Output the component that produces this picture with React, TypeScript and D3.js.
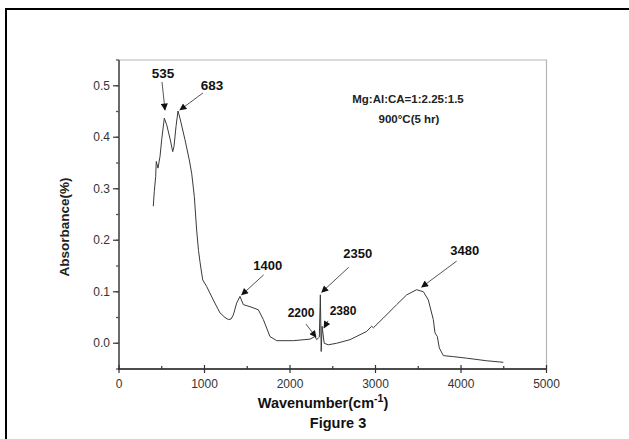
import React, { useEffect, useRef } from "react";
import * as d3 from "d3";

// FTIR spectrum: wavenumber (cm-1) and absorbance
const wavenumber = [
  401, 413, 429, 436, 456, 480, 499, 530, 558, 600, 628, 643, 667, 690, 713,
  772, 822, 850, 881, 908, 930, 947, 979, 1026, 1103, 1181, 1240, 1279, 1310,
  1337, 1376, 1415, 1454, 1532, 1630, 1688, 1766, 1844, 2039, 2234, 2292, 2312,
  2343, 2355, 2365, 2375, 2400, 2448, 2546, 2702, 2897, 2955, 2975, 3092, 3248,
  3365, 3482, 3560, 3618, 3676, 3696, 3723, 3746, 3793, 3910, 4066, 4300, 4495,
];
const absorbance = [
  0.266, 0.295, 0.324, 0.353, 0.34, 0.363, 0.395, 0.437, 0.424, 0.395, 0.372,
  0.382, 0.421, 0.451, 0.437, 0.395, 0.356, 0.33, 0.285, 0.22, 0.18, 0.158,
  0.123, 0.11, 0.084, 0.059, 0.05, 0.046, 0.047, 0.055, 0.078, 0.091, 0.075,
  0.071, 0.065, 0.046, 0.013, 0.005, 0.005, 0.008, 0.013, 0.007, 0.012, 0.094,
  -0.016, 0.033, 0.0, -0.003, 0.0, 0.007, 0.023, 0.033, 0.03, 0.049, 0.075,
  0.094, 0.104, 0.1, 0.084, 0.046, 0.02, 0.013, -0.009, -0.024, -0.026, -0.029,
  -0.034, -0.037,
];

const xTicks = [0, 1000, 2000, 3000, 4000, 5000];
const yTicks = [0.0, 0.1, 0.2, 0.3, 0.4, 0.5];

// Peak annotations: label text, arrow tip (wavenumber, absorbance)
const peakLabels = ["535", "683", "1400", "2350", "3480", "2200", "2380"];
const peakTipX = [538, 713, 1435, 2371, 3540, 2304, 2398];
const peakTipY = [0.453, 0.453, 0.094, 0.099, 0.109, 0.012, 0.03];

// Label placement relative to the arrow tip (pixels)
const labelLayout = [
  { dx: -2, dy: -37, tail: [-3, -28], size: 13.5 },
  { dx: 32, dy: -25, tail: [23, -17], size: 13.5 },
  { dx: 26, dy: -29, tail: [22, -20], size: 13 },
  { dx: 36, dy: -39, tail: [27, -25], size: 13 },
  { dx: 43, dy: -37, tail: [35, -26], size: 13 },
  { dx: -15, dy: -24, tail: [-10, -13], size: 12 },
  { dx: 19, dy: -17, tail: [4, -7], size: 12 },
];

const W = 629;
const H = 439;
const M = { left: 119, right: 546.5, top: 60, bottom: 369 };
const FONT = "'Liberation Sans', Arial, sans-serif";

export default function App() {
  const ref = useRef<SVGSVGElement>(null);

  useEffect(() => {
    const svg = d3.select(ref.current);
    svg.selectAll("*").remove();

    const x = d3.scaleLinear().domain([0, 5000]).range([M.left, M.right]);
    const y = d3.scaleLinear().domain([-0.05, 0.55]).range([M.bottom, M.top]);

    svg.append("rect").attr("width", W).attr("height", H).attr("fill", "#fff");

    // outer figure frame
    svg
      .append("rect")
      .attr("x", 6)
      .attr("y", 9)
      .attr("width", W + 20)
      .attr("height", H + 20)
      .attr("fill", "none")
      .attr("stroke", "#000")
      .attr("stroke-width", 2);

    // top and right frame lines
    svg
      .append("path")
      .attr("d", `M${M.left},${M.top}H${M.right}V${M.bottom}`)
      .attr("fill", "none")
      .attr("stroke", "#b5b5b5")
      .attr("stroke-width", 1.2);

    const defs = svg.append("defs");
    defs
      .append("marker")
      .attr("id", "arrowhead")
      .attr("viewBox", "0 0 10 10")
      .attr("refX", 9)
      .attr("refY", 5)
      .attr("markerWidth", 9)
      .attr("markerHeight", 7)
      .attr("markerUnits", "userSpaceOnUse")
      .attr("orient", "auto")
      .append("path")
      .attr("d", "M0,0L10,5L0,10z")
      .attr("fill", "#111");

    // spectrum line
    const pts: [number, number][] = wavenumber.map((w, i) => [w, absorbance[i]]);
    const line = d3
      .line<[number, number]>()
      .x((d) => x(d[0]))
      .y((d) => y(d[1]));
    svg
      .append("path")
      .datum(pts)
      .attr("d", line)
      .attr("fill", "none")
      .attr("stroke", "#3a3a3a")
      .attr("stroke-width", 1)
      .attr("stroke-linejoin", "round");

    // left axis
    const yAxis = svg.append("g");
    yAxis
      .append("line")
      .attr("x1", M.left)
      .attr("x2", M.left)
      .attr("y1", M.top)
      .attr("y2", M.bottom)
      .attr("stroke", "#6a6a6a")
      .attr("stroke-width", 2);
    const yMinor = d3.range(-0.05, 0.551, 0.05);
    yAxis
      .selectAll("line.minor")
      .data(yMinor)
      .enter()
      .append("line")
      .attr("x1", M.left)
      .attr("x2", M.left - 3)
      .attr("y1", (d) => y(d))
      .attr("y2", (d) => y(d))
      .attr("stroke", "#555")
      .attr("stroke-width", 1.3);
    yAxis
      .selectAll("line.major")
      .data(yTicks)
      .enter()
      .append("line")
      .attr("x1", M.left)
      .attr("x2", M.left - 6)
      .attr("y1", (d) => y(d))
      .attr("y2", (d) => y(d))
      .attr("stroke", "#444")
      .attr("stroke-width", 1.3);
    yAxis
      .selectAll("text")
      .data(yTicks)
      .enter()
      .append("text")
      .attr("x", M.left - 9)
      .attr("y", (d) => y(d))
      .attr("dy", "0.35em")
      .attr("text-anchor", "end")
      .attr("font-family", FONT)
      .attr("font-size", 12)
      .attr("fill", "#333")
      .text((d) => d3.format(".1f")(d));

    // bottom axis
    const xAxis = svg.append("g");
    xAxis
      .append("line")
      .attr("x1", M.left - 1)
      .attr("x2", M.right)
      .attr("y1", M.bottom)
      .attr("y2", M.bottom)
      .attr("stroke", "#111")
      .attr("stroke-width", 1.6);
    const xMinor = d3.range(500, 5000, 1000);
    xAxis
      .selectAll("line.minor")
      .data(xMinor)
      .enter()
      .append("line")
      .attr("x1", (d) => x(d))
      .attr("x2", (d) => x(d))
      .attr("y1", M.bottom)
      .attr("y2", M.bottom - 3)
      .attr("stroke", "#333")
      .attr("stroke-width", 1.2);
    xAxis
      .selectAll("line.major")
      .data(xTicks)
      .enter()
      .append("line")
      .attr("x1", (d) => x(d))
      .attr("x2", (d) => x(d))
      .attr("y1", M.bottom - 4)
      .attr("y2", M.bottom + 4)
      .attr("stroke", "#333")
      .attr("stroke-width", 1.2);
    xAxis
      .selectAll("text")
      .data(xTicks)
      .enter()
      .append("text")
      .attr("x", (d) => x(d))
      .attr("y", M.bottom + 19)
      .attr("text-anchor", "middle")
      .attr("font-family", FONT)
      .attr("font-size", 12)
      .attr("fill", "#333")
      .text((d) => String(d));

    // axis titles
    svg
      .append("text")
      .attr("transform", `translate(69,227) rotate(-90)`)
      .attr("text-anchor", "middle")
      .attr("font-family", FONT)
      .attr("font-weight", "bold")
      .attr("font-size", 13.5)
      .attr("fill", "#222")
      .text("Absorbance(%)");

    const xt = svg
      .append("text")
      .attr("x", 323)
      .attr("y", 408)
      .attr("text-anchor", "middle")
      .attr("font-family", FONT)
      .attr("font-weight", "bold")
      .attr("font-size", 14.5)
      .attr("fill", "#111");
    xt.append("tspan").text("Wavenumber(cm");
    xt.append("tspan").attr("dy", -6).attr("font-size", 10.5).text("-1");
    xt.append("tspan").attr("dy", 6).text(")");

    svg
      .append("text")
      .attr("x", 338)
      .attr("y", 428)
      .attr("text-anchor", "middle")
      .attr("font-family", FONT)
      .attr("font-weight", "bold")
      .attr("font-size", 14.5)
      .attr("fill", "#111")
      .text("Figure 3");

    // sample description
    svg
      .append("text")
      .attr("x", 408)
      .attr("y", 103)
      .attr("text-anchor", "middle")
      .attr("font-family", FONT)
      .attr("font-weight", "bold")
      .attr("font-size", 11.5)
      .attr("fill", "#222")
      .text("Mg:Al:CA=1:2.25:1.5");
    svg
      .append("text")
      .attr("x", 409)
      .attr("y", 123)
      .attr("text-anchor", "middle")
      .attr("font-family", FONT)
      .attr("font-weight", "bold")
      .attr("font-size", 11.5)
      .attr("fill", "#222")
      .text("900°C(5 hr)");

    // peak annotations
    peakLabels.forEach((lab, i) => {
      const tx = x(peakTipX[i]);
      const ty = y(peakTipY[i]);
      const L = labelLayout[i];
      svg
        .append("line")
        .attr("x1", tx + L.tail[0])
        .attr("y1", ty + L.tail[1])
        .attr("x2", tx)
        .attr("y2", ty)
        .attr("stroke", "#555")
        .attr("stroke-width", 1)
        .attr("marker-end", "url(#arrowhead)");
      svg
        .append("text")
        .attr("x", tx + L.dx)
        .attr("y", ty + L.dy)
        .attr("dy", "0.35em")
        .attr("text-anchor", "middle")
        .attr("font-family", FONT)
        .attr("font-weight", "bold")
        .attr("font-size", L.size)
        .attr("fill", "#111")
        .text(lab);
    });
  }, []);

  return (
    <svg
      ref={ref}
      width={W}
      height={H}
      style={{ position: "absolute", left: 0, top: 0, display: "block" }}
    />
  );
}
